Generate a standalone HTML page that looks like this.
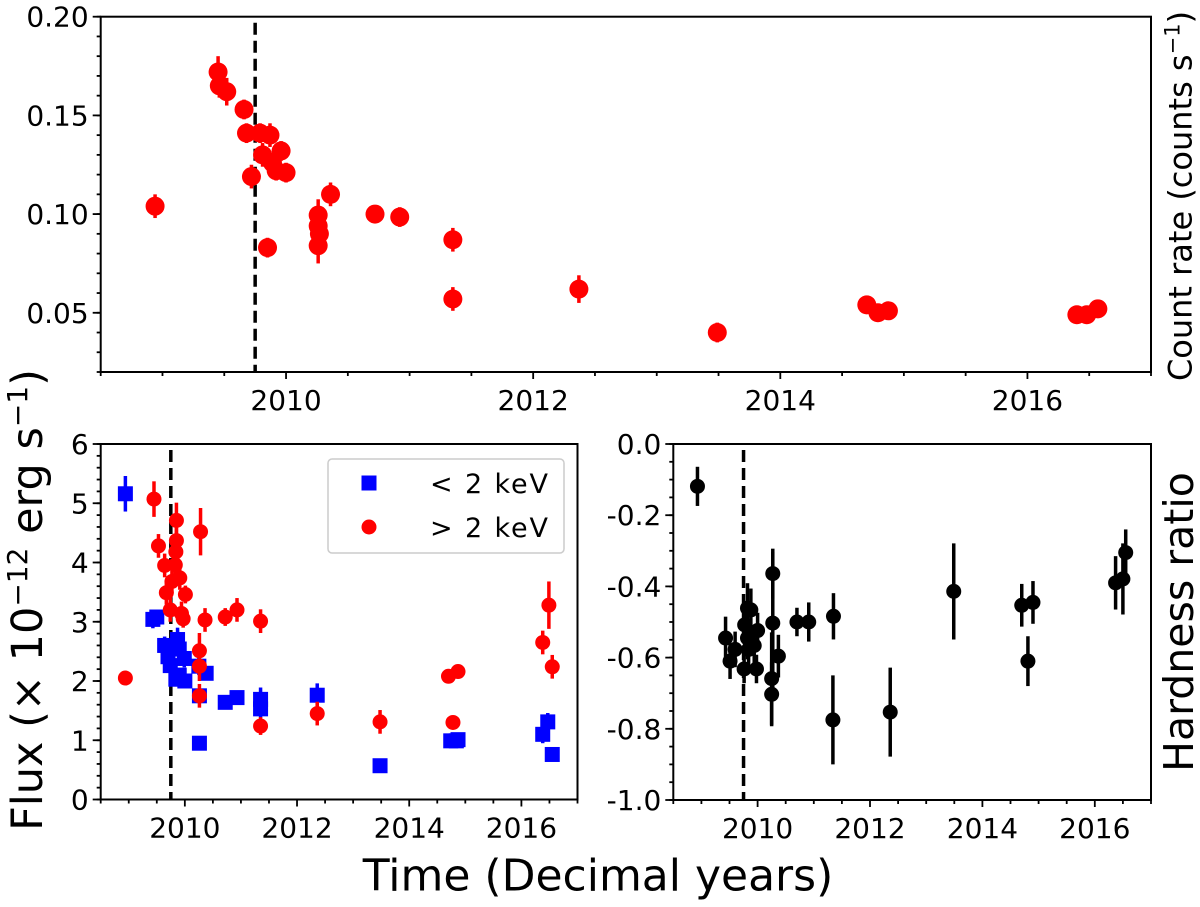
<!DOCTYPE html>
<html><head><meta charset="utf-8"><style>
html,body{margin:0;padding:0;background:#fff;}
svg{display:block;font-family:"DejaVu Sans","Liberation Sans",sans-serif;}
</style></head><body>
<svg id="fig" width="1200" height="907" viewBox="0 0 1200 907" xmlns="http://www.w3.org/2000/svg"></svg>
<script>
// ---- Top panel: count rate ----
const rateTimes = [2008.94,2009.45,2009.46,2009.52,2009.66,2009.68,2009.79,2009.87,2009.72,2009.96,2009.81,2009.89,2009.92,2010.0,2009.85,2010.26,2010.26,2010.27,2010.26,2010.36,2010.72,2010.92,2011.35,2011.35,2012.37,2013.49,2014.70,2014.79,2014.875,2016.4,2016.48,2016.57];
const rateValues = [0.104,0.172,0.165,0.162,0.153,0.141,0.141,0.140,0.119,0.132,0.130,0.126,0.122,0.121,0.083,0.0995,0.094,0.090,0.084,0.110,0.100,0.0985,0.087,0.057,0.062,0.040,0.054,0.050,0.051,0.049,0.049,0.052];
const rateErrors = [0.006,0.008,0.006,0.007,0.005,0.005,0.005,0.006,0.006,0.005,0.006,0.005,0.005,0.005,0.005,0.008,0.006,0.006,0.009,0.006,0.004,0.005,0.006,0.006,0.007,0.005,0.003,0.003,0.003,0.003,0.004,0.003];
// ---- Bottom-left: flux ----
const softTimes = [2008.94,2009.43,2009.5,2009.64,2009.70,2009.74,2009.87,2009.9,2009.99,2009.9,2010.0,2009.84,2010.25,2010.38,2010.26,2010.26,2010.72,2010.93,2011.35,2011.35,2012.36,2013.48,2014.74,2014.84,2014.87,2016.38,2016.47,2016.55];
const softFlux = [5.16,3.04,3.08,2.60,2.41,2.26,2.70,2.54,2.38,2.10,2.0,2.03,2.25,2.13,1.75,0.95,1.64,1.72,1.69,1.53,1.76,0.57,0.99,0.99,1.01,1.10,1.31,0.76];
const softErr = [0.3,0.15,0.12,0.15,0.15,0.15,0.2,0.15,0.15,0.12,0.12,0.12,0.15,0.12,0.1,0.06,0.1,0.1,0.2,0.15,0.2,0.05,0.08,0.08,0.08,0.15,0.15,0.07];
const hardTimes = [2008.94,2009.45,2009.53,2009.64,2009.67,2009.77,2009.74,2009.85,2009.85,2009.84,2009.83,2009.91,2010.01,2009.94,2009.97,2010.28,2010.26,2010.26,2010.26,2010.36,2010.72,2010.93,2011.35,2011.35,2012.36,2013.48,2014.70,2014.87,2014.78,2016.38,2016.49,2016.55];
const hardFlux = [2.05,5.07,4.28,3.95,3.49,3.68,3.20,4.71,4.37,4.18,3.96,3.74,3.46,3.14,3.05,4.52,2.51,1.75,2.25,3.03,3.08,3.20,3.01,1.24,1.45,1.31,2.08,2.16,1.30,2.65,3.28,2.24];
const hardErr = [0.1,0.3,0.2,0.2,0.2,0.2,0.2,0.3,0.3,0.3,0.2,0.2,0.15,0.2,0.15,0.4,0.3,0.2,0.25,0.2,0.15,0.2,0.2,0.15,0.2,0.2,0.1,0.1,0.08,0.2,0.4,0.2];
// ---- Bottom-right: hardness ratio ----
const hrTimes = [2008.93,2009.43,2009.51,2009.6,2009.76,2009.77,2009.82,2009.88,2009.82,2009.94,2010.0,2009.98,2009.84,2010.27,2010.27,2010.25,2010.25,2010.37,2010.70,2010.91,2011.35,2011.34,2012.36,2013.49,2014.7,2014.9,2014.81,2016.37,2016.5,2016.55];
const hrValues = [-0.119,-0.545,-0.61,-0.577,-0.632,-0.508,-0.461,-0.466,-0.545,-0.566,-0.524,-0.632,-0.577,-0.364,-0.503,-0.659,-0.703,-0.596,-0.50,-0.50,-0.484,-0.775,-0.753,-0.414,-0.453,-0.445,-0.61,-0.39,-0.379,-0.305];
const hrErr = [0.055,0.06,0.05,0.05,0.04,0.06,0.07,0.06,0.06,0.05,0.05,0.04,0.05,0.07,0.2,0.13,0.09,0.06,0.04,0.055,0.065,0.125,0.125,0.135,0.06,0.06,0.07,0.075,0.1,0.065];
const yearTicks = [2010,2012,2014,2016];
const rateTicks = [0.05,0.10,0.15,0.20];
const fluxTicks = [0,1,2,3,4,5,6];
const hrTicks = [0.0,-0.2,-0.4,-0.6,-0.8,-1.0];
const outburstTime = 2009.75;

const NS="http://www.w3.org/2000/svg";
const svg=document.getElementById('fig');
function mk(tag,attrs,parent){const e=document.createElementNS(NS,tag);for(const k in attrs)e.setAttribute(k,attrs[k]);(parent||svg).appendChild(e);return e;}
function lin(d0,d1,r0,r1){return v=>r0+(v-d0)/(d1-d0)*(r1-r0);}

function panel(name,x0,x1,y0,y1,ymin,ymax,yt,ylabFmt,yminor){
  const g=mk('g',{});
  
  
  const sx=lin(2008.5,2017,x0,x1), sy=lin(ymin,ymax,y1,y0);
  for(let t=2008.5;t<=2017.001;t+=0.5){
    const major=Math.abs(t-Math.round(t))<1e-6 && Math.round(t)%2===0;
    const tk=mk('line',{x1:sx(t),x2:sx(t),y1:y1,y2:y1+(major?7:4),stroke:'#000','stroke-width':1.8},g);
    
    
  }
  yearTicks.forEach(t=>{
    const tx=mk('text',{x:sx(t),y:y1+38,'font-size':28,'text-anchor':'middle',fill:'#000'},g);
    tx.textContent=t;
    
    
  });
  for(let v=ymin;v<=ymax+1e-9;v+=yminor){
    const tk=mk('line',{x1:x0-4,x2:x0,y1:sy(v),y2:sy(v),stroke:'#000','stroke-width':1.8},g);
    
    
  }
  yt.forEach(v=>{
    const tk=mk('line',{x1:x0-8,x2:x0,y1:sy(v),y2:sy(v),stroke:'#000','stroke-width':1.8},g);
    
    
    const tx=mk('text',{x:x0-12,y:sy(v)+10,'font-size':28,'text-anchor':'end',fill:'#000'},g);
    tx.textContent=ylabFmt(v);
    
    
  });
  const fr=mk('rect',{x:x0,y:y0,width:x1-x0,height:y1-y0,fill:'none',stroke:'#000','stroke-width':2},g);
  
  
  const dl=mk('line',{x1:sx(outburstTime),x2:sx(outburstTime),y1:y0+6,y2:y1,stroke:'#000','stroke-width':3.5,'stroke-dasharray':'12,6'},g);
  
  
  return {g,sx,sy};
}
function errbar(g,sx,sy,t,v,e,col,w,name){
  const l=mk('line',{x1:sx(t),x2:sx(t),y1:sy(v-e),y2:sy(v+e),stroke:col,'stroke-width':w},g);
  
  
}

const P1=panel('count-rate-panel',100.7,1151,16.7,372,0.02,0.20,rateTicks,v=>v.toFixed(2),0.01);
rateTimes.forEach((t,i)=>{
  errbar(P1.g,P1.sx,P1.sy,t,rateValues[i],rateErrors[i],'#ff0000',3.5,'rate');
  const c=mk('circle',{cx:P1.sx(t),cy:P1.sy(rateValues[i]),r:9.5,fill:'#ff0000'},P1.g);
  
  
});
const P2=panel('flux-panel',100.7,577.5,444,799.5,0,6,fluxTicks,v=>String(v),0.2);
softTimes.forEach((t,i)=>{
  errbar(P2.g,P2.sx,P2.sy,t,softFlux[i],softErr[i],'#0000ff',3.5,'soft-flux');
  const s=mk('rect',{x:P2.sx(t)-7.5,y:P2.sy(softFlux[i])-7.5,width:15,height:15,fill:'#0000ff'},P2.g);
  
  
});
hardTimes.forEach((t,i)=>{
  errbar(P2.g,P2.sx,P2.sy,t,hardFlux[i],hardErr[i],'#ff0000',3.5,'hard-flux');
  const c=mk('circle',{cx:P2.sx(t),cy:P2.sy(hardFlux[i]),r:7.5,fill:'#ff0000'},P2.g);
  
  
});
const lg=mk('g',{});


mk('rect',{x:328,y:459,width:236,height:94,rx:4,fill:'#fff','fill-opacity':0.8,stroke:'#cccccc','stroke-width':1.5},lg);
const ls=mk('rect',{x:361.5,y:475.5,width:15,height:15,fill:'#0000ff'},lg);


const lc=mk('circle',{cx:369,cy:527,r:7.5,fill:'#ff0000'},lg);


const lt1=mk('text',{x:430,y:493,'font-size':27,'textLength':118},lg);lt1.textContent='<  2 keV';


const lt2=mk('text',{x:430,y:537,'font-size':27,'textLength':118},lg);lt2.textContent='>  2 keV';


lt1.setAttribute('xml:space','preserve');lt2.setAttribute('xml:space','preserve');
const P3=panel('hardness-panel',673.3,1151,444,800,-1.0,0.0,hrTicks,v=>v.toFixed(1),0.05);
hrTimes.forEach((t,i)=>{
  errbar(P3.g,P3.sx,P3.sy,t,hrValues[i],hrErr[i],'#000',3.5,'hardness');
  const c=mk('circle',{cx:P3.sx(t),cy:P3.sy(hrValues[i]),r:7.5,fill:'#000'},P3.g);
  
  
});
</script>
<div style="position:absolute;left:1180px;top:196px;transform:translate(-50%,-50%) rotate(-90deg);white-space:nowrap;font-family:'DejaVu Sans','Liberation Sans',sans-serif;font-size:32px;">Count rate (counts s<sup style="font-size:21px;">−1</sup>)</div>
<div style="position:absolute;left:1179px;top:622px;transform:translate(-50%,-50%) rotate(-90deg);white-space:nowrap;font-family:'DejaVu Sans','Liberation Sans',sans-serif;font-size:41px;">Hardness ratio</div>
<div style="position:absolute;left:27px;top:600px;transform:translate(-50%,-50%) rotate(-90deg);white-space:nowrap;font-family:'DejaVu Sans','Liberation Sans',sans-serif;font-size:43px;">Flux (× 10<sup style="font-size:28px;">−12</sup> erg s<sup style="font-size:28px;">−1</sup>)</div>
<div style="position:absolute;left:598px;top:876px;transform:translate(-50%,-50%);white-space:nowrap;font-family:'DejaVu Sans','Liberation Sans',sans-serif;font-size:44px;">Time (Decimal years)</div>
</body></html>
